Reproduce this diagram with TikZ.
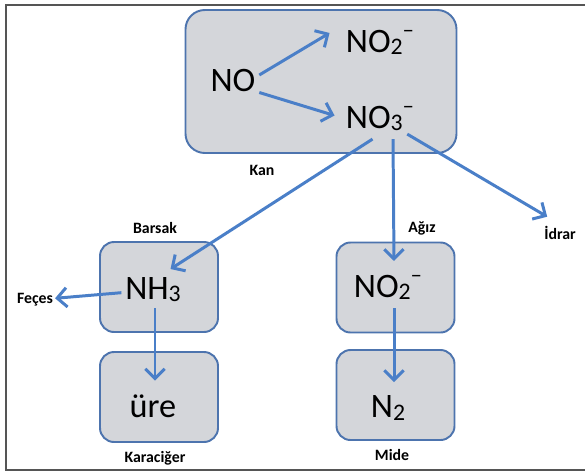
\documentclass[tikz,border=0pt]{standalone}
\usepackage{fontspec}
\setmainfont{Carlito}
\usepackage{tikz}
\usetikzlibrary{arrows.meta, positioning, calc}
\usepackage{xcolor}
\definecolor{nitroblue}{HTML}{4A7FC8}
\definecolor{nitroedge}{HTML}{4D74AE}
\definecolor{nitrogray}{HTML}{D4D6DA}
\definecolor{nitroframe}{HTML}{555555}
\newcommand{\chemsub}[1]{\raisebox{-0.06em}{\fontsize{13.5}{13.5}\selectfont #1}}
\newcommand{\chemminus}{\raisebox{0.42em}{\fontsize{13}{13}\selectfont --}}

\begin{document}
\begin{tikzpicture}[
  organ/.style={
    rectangle, rounded corners=8pt,
    minimum width=2.36cm, minimum height=1.8cm,
    draw=nitroedge, line width=1.1pt, fill=nitrogray
  },
  chem/.style={font=\fontsize{19.5}{19.5}\selectfont, inner sep=2pt},
  place/.style={font=\fontsize{9}{9}\selectfont\bfseries, inner sep=1pt},
  arr/.style={-{Straight Barb[length=5.5pt,width=11pt]}, line width=1.7pt,
    draw=nitroblue}
]
  \useasboundingbox (0,0) rectangle (11.7,-9.46);
  \draw[nitroframe, line width=1.1pt] (11.7,-0.1) -- (0.12,-0.1) -- (0.12,-9.4) -- (11.7,-9.4);

  % kan
  \node[organ, minimum width=5.42cm, minimum height=2.86cm, rounded corners=11pt] (kanbox) at (6.42,-1.63) {};
  \node[chem] (no) at (4.66,-1.6) {NO};
  \node[chem] (notwo) at (7.6,-0.84) {NO\chemsub{2}\chemminus};
  \node[chem] (nothree) at (7.6,-2.36) {NO\chemsub{3}\chemminus};
  \node[place] (kan) at (5.24,-3.4) {Kan};

  % barsak / karaciger
  \node[organ] (bnh) at (3.18,-5.74) {};
  \node[organ] (bure) at (3.18,-7.94) {};
  \node[chem] (nhthree) at (3.06,-5.8) {NH\chemsub{3}};
  \node[chem] (ure) at (3.06,-8.12) {üre};
  \node[place] (barsak) at (3.1,-4.56) {Barsak};
  \node[place] (karaciger) at (3.1,-9.16) {Karaciğer};
  \node[place] (feces) at (0.7,-6.0) {Feçes};

  % agiz / mide
  \node[organ] (bnitrit) at (7.91,-5.75) {};
  \node[organ] (bntwo) at (7.91,-7.9) {};
  \node[chem] (nitrit) at (7.76,-5.74) {NO\chemsub{2}\chemminus};
  \node[chem] (ntwo) at (7.76,-8.16) {N\chemsub{2}};
  \node[place] (agiz) at (8.44,-4.56) {Ağız};
  \node[place] (mide) at (7.84,-9.1) {Mide};
  \node[place] (idrar) at (11.2,-4.66) {İdrar};

  \draw[arr] ([yshift=0.1cm]no.east) -- ([xshift=-0.25cm,yshift=0.18cm]notwo.west);
  \draw[arr] ([yshift=-0.25cm]no.east) -- ([xshift=-0.15cm,yshift=0.05cm]nothree.west);
  \draw[arr] ([xshift=-0.15cm,yshift=-0.1cm]nothree.south) -- ([xshift=0.35cm,yshift=0.1cm]nhthree.north);
  \draw[arr] ([xshift=0.26cm,yshift=-0.1cm]nothree.south) -- ([xshift=0.12cm,yshift=0.2cm]nitrit.north);
  \draw[arr] (nothree) -- ([xshift=0.1cm,yshift=0.15cm]idrar.north west);
  \draw[arr] (nhthree) -- (feces);
  \draw[arr] ([xshift=0.04cm,yshift=-0.05cm]nhthree.south) -- ([xshift=0.04cm,yshift=0.2cm]ure.north);
  \draw[arr] ([xshift=0.12cm,yshift=-0.1cm]nitrit.south) -- ([xshift=0.12cm,yshift=0.2cm]ntwo.north);
\end{tikzpicture}
\end{document}
